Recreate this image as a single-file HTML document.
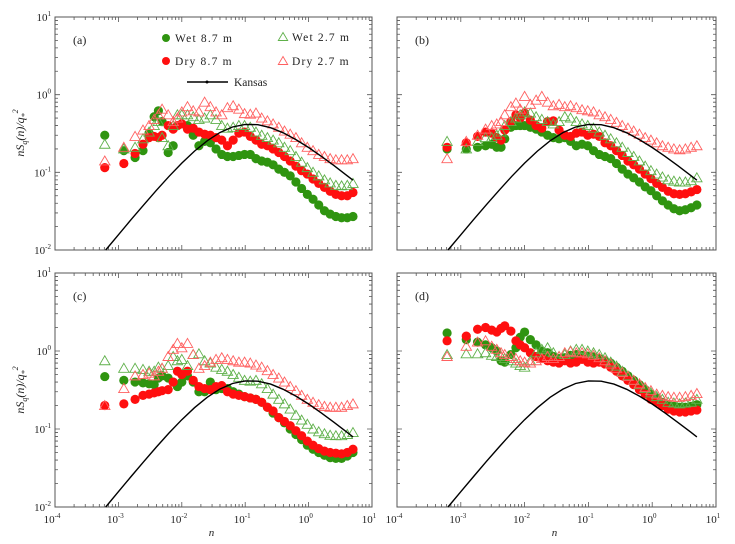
<!DOCTYPE html>
<html><head><meta charset="utf-8">
<style>
html,body{margin:0;padding:0;background:#fff;}
svg{display:block;font-family:"Liberation Serif",serif;}
</style></head>
<body>
<svg id="fig" width="735" height="544" viewBox="0 0 735 544" xmlns="http://www.w3.org/2000/svg"></svg>
<script>
// frequency grid (log10 n)
const lowN = [-3.215,-2.914,-2.737,-2.612,-2.516,-2.436,-2.369,-2.311,-2.215,-2.136,-2.069];
const highN = [-2,-1.91,-1.82,-1.73,-1.64,-1.55,-1.46,-1.37,-1.28,-1.19,-1.1,-1.01,-0.92,-0.83,-0.74,-0.65,-0.56,-0.47,-0.38,-0.29,-0.2,-0.11,-0.02,0.07,0.16,0.25,0.34,0.43,0.52,0.61,0.7];
const kansasN = [-3.2,-3.0,-2.8,-2.6,-2.4,-2.2,-2.0,-1.8,-1.6,-1.4,-1.2,-1.0,-0.8,-0.6,-0.4,-0.2,0,0.2,0.4,0.6,0.7];
const kansasV = [.0100,.0157,.0246,.0382,.0587,.089,.1315,.1876,.255,.325,.383,.414,.410,.376,.323,.264,.209,.161,.122,.0917,.0793];
const xTicks = ["10","10","10","10","10","10"];
const xExp = ["-4","-3","-2","-1","0","1"];
const yExp = ["1","0","-1","-2"];

// panel a
const aWet87 = [.30,.19,.155,.19,.32,.52,.62,.45,.18,.22,.40, .42,.40,.30,.22,.25,.24,.20,.17,.16,.16,.165,.17,.17,.15,.14,.135,.125,.11,.10,.09,.075,.062,.052,.045,.038,.032,.029,.027,.026,.026,.027];
const aDry87 = [.115,.13,.175,.23,.28,.29,.28,.30,.40,.36,.40, .42,.36,.37,.33,.31,.30,.28,.26,.22,.26,.32,.33,.29,.26,.23,.22,.20,.18,.16,.14,.12,.105,.095,.082,.072,.064,.057,.052,.05,.05,.055];
const aWet27 = [.23,.20,.21,.27,.33,.40,.45,.28,.22,.40,.55, .55,.55,.52,.48,.50,.55,.48,.40,.37,.38,.40,.40,.38,.33,.30,.28,.26,.24,.21,.19,.16,.135,.115,.10,.09,.08,.073,.068,.067,.068,.072];
const aDry27 = [.14,.21,.29,.35,.40,.48,.55,.65,.55,.45,.50, .60,.70,.62,.60,.80,.70,.60,.55,.68,.72,.65,.57,.56,.58,.50,.46,.42,.38,.34,.31,.28,.24,.21,.19,.17,.16,.15,.145,.145,.145,.15];
// panel b
const bWet87 = [.20,.20,.21,.22,.23,.21,.21,.27,.38,.40,.40, .40,.38,.36,.33,.30,.28,.27,.28,.25,.22,.23,.22,.19,.17,.16,.15,.13,.11,.095,.085,.075,.065,.058,.05,.043,.038,.034,.032,.033,.035,.038];
const bDry87 = [.21,.24,.29,.33,.32,.28,.26,.35,.45,.55,.50, .58,.47,.40,.37,.45,.46,.35,.30,.29,.32,.33,.30,.31,.29,.24,.22,.19,.165,.14,.125,.11,.095,.083,.072,.064,.057,.053,.052,.053,.056,.06];
const bWet27 = [.25,.20,.25,.28,.28,.30,.33,.40,.45,.50,.55, .60,.58,.52,.48,.45,.42,.45,.52,.50,.45,.42,.40,.37,.33,.30,.27,.24,.21,.18,.16,.14,.12,.105,.095,.087,.08,.077,.075,.075,.078,.085];
const bDry27 = [.15,.25,.30,.36,.40,.42,.45,.55,.70,.78,.65, .95,.75,.85,.95,.80,.72,.75,.70,.72,.68,.64,.62,.60,.55,.52,.48,.44,.40,.37,.34,.31,.28,.26,.24,.22,.21,.20,.195,.20,.21,.22];
// panel c
const cWet87 = [.47,.42,.40,.39,.38,.37,.45,.48,.45,.40,.35, .40,.48,.40,.30,.30,.40,.32,.33,.33,.30,.28,.26,.25,.24,.22,.19,.16,.14,.12,.10,.085,.073,.062,.055,.05,.046,.043,.042,.042,.045,.05];
const cDry87 = [.20,.21,.24,.27,.28,.29,.30,.31,.32,.40,.55, .50,.55,.42,.35,.33,.32,.35,.36,.30,.28,.27,.26,.25,.24,.22,.19,.17,.14,.125,.11,.095,.082,.07,.062,.056,.052,.05,.049,.048,.05,.055];
const cWet27 = [.75,.60,.60,.58,.55,.55,.62,.60,.65,.85,.75, .78,.65,.90,.92,.75,.70,.62,.58,.55,.50,.46,.42,.41,.42,.38,.33,.28,.24,.21,.18,.15,.13,.115,.10,.092,.087,.083,.082,.082,.085,.09];
const cDry27 = [.20,.33,.48,.50,.52,.48,.55,.60,.85,1.05,1.25, 1.1,1.25,.90,.60,.65,.72,.78,.82,.78,.75,.72,.72,.70,.66,.62,.56,.50,.45,.40,.35,.31,.27,.24,.22,.205,.195,.19,.19,.19,.2,.21];
// panel d
const dWet87 = [1.7,1.4,1.3,1.2,1.1,1.0,.75,.72,.9,1.1,1.5, 1.75,1.4,1.2,1.0,.95,.85,.80,.82,.88,.9,.88,.86,.84,.80,.75,.70,.62,.55,.48,.42,.37,.32,.28,.25,.22,.205,.195,.19,.19,.195,.205];
const dDry87 = [1.35,1.55,1.9,2.0,1.85,1.75,1.95,2.1,1.8,1.35,1.2, 1.1,.95,.85,.80,.75,.72,.70,.75,.70,.72,.78,.72,.70,.72,.68,.62,.55,.48,.42,.37,.32,.28,.24,.22,.20,.18,.17,.165,.165,.17,.175];
const dWet27 = [.9,.92,.92,.95,.88,.85,.85,.80,.75,.70,.65, .62,.75,.95,1.05,1.1,.95,.85,.90,1.0,1.05,1.05,1.0,.95,.90,.82,.72,.64,.55,.48,.42,.37,.33,.29,.26,.24,.22,.215,.21,.215,.22,.24];
const dDry27 = [.85,1.15,1.3,1.35,1.15,1.05,.95,.90,.85,.80,.75, .72,.70,.75,.80,.85,.80,.85,.95,.98,.95,.95,.92,.88,.82,.75,.68,.60,.53,.47,.42,.38,.34,.31,.28,.27,.26,.255,.255,.26,.27,.285];

const NS="http://www.w3.org/2000/svg";
const svg=document.getElementById('fig');
function el(tag,attrs,parent){const e=document.createElementNS(NS,tag);for(const k in attrs)e.setAttribute(k,attrs[k]);(parent||svg).appendChild(e);return e;}
const GREEN="#2f9410", RED="#ff0f0f", GREENL="#5fb04a", REDL="#ff6060";
const R=4.6, TW=5.2, TH=5;
const panels=[
 {id:'a',x0:55,x1:372,y0:17,y1:250,s:[aWet87,aDry87,aWet27,aDry27],yl:true,xl:false},
 {id:'b',x0:397,x1:716,y0:17,y1:250,s:[bWet87,bDry87,bWet27,bDry27],yl:false,xl:false},
 {id:'c',x0:55,x1:372,y0:273,y1:507,s:[cWet87,cDry87,cWet27,cDry27],yl:true,xl:true},
 {id:'d',x0:397,x1:716,y0:273,y1:507,s:[dWet87,dDry87,dWet27,dDry27],yl:false,xl:true}
];
const allN=lowN.concat(highN);
panels.forEach(p=>{
  const g=el('g',{});
  
  
  const X=l=>p.x0+(l+4)/5*(p.x1-p.x0);
  const Y=v=>p.y1-(Math.log10(v)+2)/3*(p.y1-p.y0);
  const fr=el('rect',{x:p.x0,y:p.y0,width:p.x1-p.x0,height:p.y1-p.y0,fill:'none',stroke:'#555','stroke-width':1},g);
  
  
  let d='';
  for(let e=-4;e<=1;e++){for(let m=1;m<=9;m++){const l=e+Math.log10(m);if(l>1)break;const x=X(l);const L=m==1?5:3;
    d+=`M${x},${p.y1}v${-L}M${x},${p.y0}v${L}`;}}
  for(let e=-2;e<=1;e++){for(let m=1;m<=9;m++){const l=e+Math.log10(m);if(l>1)break;const y=p.y1-(l+2)/3*(p.y1-p.y0);const L=m==1?5:3;
    d+=`M${p.x0},${y}h${L}M${p.x1},${y}h${-L}`;}}
  const tk=el('path',{d:d,stroke:'#555','stroke-width':0.8,fill:'none'},g);
  
  
  if(p.yl){yExp.forEach((ex,i)=>{const y=p.y0+i*(p.y1-p.y0)/3;
    const t=el('text',{x:p.x0-4,y:y+4,'font-size':11,'text-anchor':'end',fill:'#222'},g);
    
    
    t.innerHTML=`10<tspan dy="-5" font-size="7">${ex}</tspan>`;});}
  if(p.xl){xExp.forEach((ex,i)=>{const x=X(i-4);
    const t=el('text',{x:x-3,y:p.y1+16,'font-size':11,'text-anchor':'middle',fill:'#222'},g);
    
    
    t.innerHTML=`${xTicks[i]}<tspan dy="-5" font-size="7">${ex}</tspan>`;});
    const xt=el('text',{x:(p.x0+p.x1)/2-2,y:p.y1+29,'font-size':11,'font-style':'italic','text-anchor':'middle',fill:'#222'},g);
    
    
    xt.textContent='n';}
  const pl=el('text',{x:p.x0+18,y:p.y0+27,'font-size':12,fill:'#222'},g);
  
  
  pl.textContent='('+p.id+')';
  const styles=[{c:GREEN,t:'circle',n:'wet-8.7m'},{c:RED,t:'circle',n:'dry-8.7m'},{c:GREENL,t:'tri',n:'wet-2.7m'},{c:REDL,t:'tri',n:'dry-2.7m'}];
  p.s.forEach((arr,si)=>{const st=styles[si];
    const sg=el('g',{},g);
    
    
    arr.forEach((v,i)=>{const x=X(allN[i]),y=Y(v);let m;
      if(st.t=='circle'){m=el('circle',{cx:x,cy:y,r:R,fill:st.c},sg);}
      else{m=el('path',{d:`M${x},${y-TH}L${x+TW},${y+TH*0.8}L${x-TW},${y+TH*0.8}Z`,fill:'none',stroke:st.c,'stroke-width':0.9},sg);}
      
      });});
  const kp=kansasN.map((l,i)=>`${i?'L':'M'}${X(l).toFixed(1)},${Y(kansasV[i]).toFixed(1)}`).join('');
  const kl=el('path',{d:kp,fill:'none',stroke:'#000','stroke-width':1.4},g);
  
  
});
[133,390].forEach((cy,i)=>{const t=el('text',{x:0,y:0,'font-size':12,'font-style':'italic',fill:'#222','text-anchor':'middle',transform:`translate(24,${cy}) rotate(-90)`});
  
  
  t.innerHTML='nS<tspan dy="3" font-size="8">q</tspan><tspan dy="-3">(n)/q</tspan><tspan dy="3" font-size="8">*</tspan><tspan dy="-9" font-size="8">2</tspan>';});
const lg=el('g',{});


const items=[{x:166,y:38,c:GREEN,t:'circle',s:'Wet 8.7 m'},{x:283,y:37,c:GREENL,t:'tri',s:'Wet 2.7 m'},{x:166,y:61,c:RED,t:'circle',s:'Dry 8.7 m'},{x:283,y:61,c:REDL,t:'tri',s:'Dry 2.7 m'}];
items.forEach(it=>{const e=el('g',{},lg);
  
  
  if(it.t=='circle')el('circle',{cx:it.x,cy:it.y,r:4,fill:it.c},e);
  else el('path',{d:`M${it.x},${it.y-4.5}L${it.x+4.7},${it.y+3.5}L${it.x-4.7},${it.y+3.5}Z`,fill:'none',stroke:it.c,'stroke-width':0.9},e);
  const t=el('text',{x:it.x+9,y:it.y+4,'font-size':11.5,fill:'#222','letter-spacing':'1.2','xml:space':'preserve'},e);
  t.textContent=it.s.replace(/ /g,'  ');});
const ke=el('g',{},lg);


el('line',{x1:187,y1:82,x2:228,y2:82,stroke:'#000','stroke-width':1.4},ke);
el('circle',{cx:207,cy:82,r:1.5,fill:'#000'},ke);
const kt=el('text',{x:234,y:86,'font-size':11.5,fill:'#222'},ke);
kt.textContent='Kansas';
</script>
</body></html>
